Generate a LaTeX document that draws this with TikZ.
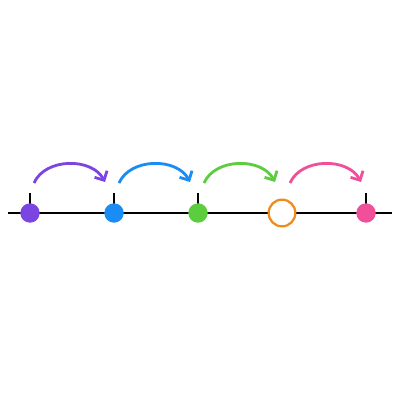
\documentclass[tikz,border=0pt]{standalone}
\usetikzlibrary{arrows.meta}
\definecolor{hopPurple}{RGB}{124,69,226}
\definecolor{hopBlue}{RGB}{26,140,245}
\definecolor{hopGreen}{RGB}{92,205,63}
\definecolor{hopOrange}{RGB}{240,140,26}
\definecolor{hopPink}{RGB}{240,80,154}
\tikzset{
  dot/.style={circle, inner sep=0pt, minimum size=13.8pt},
  hop/.style={line width=2pt, -{Straight Barb[length=5pt, width=10pt, line width=2pt]}, out=66, in=118}
}
\begin{document}
\begin{tikzpicture}[x=0.025cm, y=-0.025cm]
        \useasboundingbox (0, 0) rectangle (400, 400);
        \fill[white] (0, 0) rectangle (400, 400);

        \coordinate (l) at (8, 213);
        \coordinate (r) at (392, 213);
        \coordinate (p1) at (30, 213);
        \coordinate (p2) at (114, 213);
        \coordinate (p3) at (198, 213);
        \coordinate (p4) at (282, 213);
        \coordinate (p5) at (366, 213);
        \coordinate (t1) at (30, 193);
        \coordinate (t2) at (114, 193);
        \coordinate (t3) at (198, 193);
        \coordinate (t5) at (366, 193);

        \draw[line width=2pt] (l) -- (r);
        \draw[line width=2pt] (p1) -- (t1);
        \draw[line width=2pt] (p2) -- (t2);
        \draw[line width=2pt] (p3) -- (t3);
        \draw[line width=2pt] (p5) -- (t5);

        \coordinate (a1) at (34, 183);
        \coordinate (b1) at (105, 182);
        \coordinate (a2) at (119, 183);
        \coordinate (b2) at (190, 182);
        \coordinate (a3) at (204, 183);
        \coordinate (b3) at (275, 182);
        \coordinate (a4) at (290, 183);
        \coordinate (b4) at (361, 182);

        \draw[hop, hopPurple] (a1) to (b1);
        \draw[hop, hopBlue] (a2) to (b2);
        \draw[hop, hopGreen] (a3) to (b3);
        \draw[hop, hopPink] (a4) to (b4);

        \node[dot, fill=hopPurple] (d1) at (p1) {};
        \node[dot, fill=hopBlue] (d2) at (p2) {};
        \node[dot, fill=hopGreen] (d3) at (p3) {};
        \node[dot, draw=hopOrange, fill=white, line width=1.6pt, minimum size=19pt] (d4) at (p4) {};
        \node[dot, fill=hopPink] (d5) at (p5) {};

    \end{tikzpicture}
\end{document}
